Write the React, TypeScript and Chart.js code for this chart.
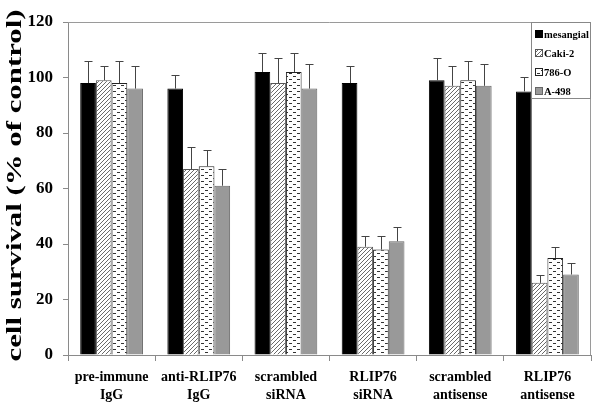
import React, { useEffect, useRef } from "react";
import { Chart, registerables } from "chart.js";

Chart.register(...registerables);

const categories: string[][] = [
  ["pre-immune", "IgG"],
  ["anti-RLIP76", "IgG"],
  ["scrambled", "siRNA"],
  ["RLIP76", "siRNA"],
  ["scrambled", "antisense"],
  ["RLIP76", "antisense"],
];
const seriesNames = ["mesangial", "Caki-2", "786-O", "A-498"];
const mesangial = [98, 96, 102, 98, 99, 95];
const mesangialErr = [8, 5, 7, 6, 8, 5];
const caki2 = [99, 67, 98, 39, 97, 26];
const caki2Err = [5, 8, 9, 4, 7, 3];
const o786 = [98, 68, 102, 38, 99, 35];
const o786Err = [8, 6, 7, 5, 7, 4];
const a498 = [96, 61, 96, 41, 97, 29];
const a498Err = [8, 6, 9, 5, 8, 4];
const yTicks = [0, 20, 40, 60, 80, 100, 120];
const yTitle = "cell survival (% of control)";

const SERIF = "'Liberation Serif', 'Times New Roman', serif";

function makeHatch(ctx: CanvasRenderingContext2D): CanvasPattern | string {
  const c = document.createElement("canvas");
  c.width = 4;
  c.height = 4;
  const g = c.getContext("2d")!;
  g.fillStyle = "#ffffff";
  g.fillRect(0, 0, 4, 4);
  g.strokeStyle = "#6a6a6a";
  g.lineWidth = 1;
  g.beginPath();
  g.moveTo(-1, 5);
  g.lineTo(5, -1);
  g.moveTo(-1, 1);
  g.lineTo(1, -1);
  g.moveTo(3, 5);
  g.lineTo(5, 3);
  g.stroke();
  return ctx.createPattern(c, "repeat") || "#aaa";
}

function makeDots(ctx: CanvasRenderingContext2D): CanvasPattern | string {
  const c = document.createElement("canvas");
  c.width = 8;
  c.height = 6;
  const g = c.getContext("2d")!;
  g.fillStyle = "#ffffff";
  g.fillRect(0, 0, 8, 6);
  g.fillStyle = "#333333";
  g.fillRect(1, 1, 3, 1);
  g.fillRect(5, 4, 3, 1);
  return ctx.createPattern(c, "repeat") || "#ddd";
}

export default function App() {
  const ref = useRef<HTMLCanvasElement>(null);
  useEffect(() => {
    const canvas = ref.current!;
    const ctx = canvas.getContext("2d")!;
    const hatch = makeHatch(ctx);
    const dots = makeDots(ctx);
    const values = [mesangial, caki2, o786, a498];
    const errs = [mesangialErr, caki2Err, o786Err, a498Err];
    const fills: any[] = ["#000000", hatch, dots, "#999999"];
    const borders = ["#000000", "#555555", "#222222", "#666666"];

    const frame = {
      id: "frame",
      afterDraw(chart: any) {
        const a = chart.chartArea;
        const c = chart.ctx;
        c.save();
        c.strokeStyle = "#9a9a9a";
        c.lineWidth = 1;
        c.beginPath();
        c.moveTo(a.left, a.top + 0.5);
        c.lineTo(a.right - 0.5, a.top + 0.5);
        c.lineTo(a.right - 0.5, a.bottom);
        c.stroke();
        c.restore();
      },
    };

    const axisTitle = {
      id: "axisTitle",
      afterDraw(chart: any) {
        const a = chart.chartArea;
        const c = chart.ctx;
        c.save();
        c.font = `bold 21px ${SERIF}`;
        const w = c.measureText(yTitle).width;
        const target = 352;
        c.translate(16, (a.top + a.bottom) / 2 - 3);
        c.rotate(-Math.PI / 2);
        c.scale(target / w, 1);
        c.fillStyle = "#000000";
        c.textAlign = "center";
        c.textBaseline = "middle";
        c.fillText(yTitle, 0, 0);
        c.restore();
      },
    };

    const errorBars = {
      id: "errorBars",
      afterDatasetsDraw(chart: any) {
        const c = chart.ctx;
        const ys = chart.scales.y;
        c.save();
        c.strokeStyle = "#444444";
        c.lineWidth = 1;
        chart.data.datasets.forEach((ds: any, i: number) => {
          const meta = chart.getDatasetMeta(i);
          meta.data.forEach((el: any, j: number) => {
            const v = ds.data[j];
            const e = errs[i][j];
            const x = Math.round(el.x) + 0.5;
            const yTop = Math.round(ys.getPixelForValue(v + e)) + 0.5;
            c.beginPath();
            c.moveTo(x, el.y);
            c.lineTo(x, yTop);
            c.moveTo(x - 4, yTop);
            c.lineTo(x + 4, yTop);
            c.stroke();
          });
        });
        c.restore();
      },
    };

    const legendBox = {
      id: "legendBox",
      afterDraw(chart: any) {
        const a = chart.chartArea;
        const c = chart.ctx;
        const left = a.right - 60;
        const top = a.top;
        c.save();
        c.fillStyle = "#ffffff";
        c.fillRect(left, top, 60, 77);
        c.strokeStyle = "#888888";
        c.lineWidth = 1;
        c.strokeRect(left + 0.5, top + 0.5, 59, 76);
        c.font = `bold 10.5px ${SERIF}`;
        c.textBaseline = "middle";
        chart.data.datasets.forEach((ds: any, i: number) => {
          const cy = top + 12 + i * 19;
          c.fillStyle = fills[i];
          c.fillRect(left + 4, cy - 4, 8, 8);
          c.strokeStyle = borders[i];
          c.strokeRect(left + 4.5, cy - 3.5, 7, 7);
          c.fillStyle = "#000000";
          c.fillText(ds.label, left + 13, cy + 1);
        });
        c.restore();
      },
    };

    const chart = new Chart(canvas, {
      type: "bar",
      data: {
        labels: categories,
        datasets: seriesNames.map((name, i) => ({
          label: name,
          data: values[i],
          backgroundColor: fills[i],
          borderColor: borders[i],
          borderWidth: 1,
          categoryPercentage: 0.72,
          barPercentage: 1,
        })),
      },
      options: {
        responsive: false,
        animation: false,
        devicePixelRatio: 1,
        layout: { padding: { top: 22, right: 10, left: 0, bottom: 0 } },
        plugins: {
          legend: { display: false },
          tooltip: { enabled: false },
          title: { display: false },
        },
        scales: {
          x: {
            grid: {
              display: true,
              offset: true,
              drawOnChartArea: false,
              tickLength: 6,
              color: "#8a8a8a",
            },
            border: { color: "#8a8a8a" },
            ticks: {
              color: "#000000",
              font: { family: SERIF, size: 14, weight: "bold", lineHeight: 1.3 },
              padding: 7,
              maxRotation: 0,
              autoSkip: false,
            },
            afterFit(scale: any) {
              scale.height = 60;
            },
          },
          y: {
            min: 0,
            max: 120,
            afterBuildTicks(scale: any) {
              scale.ticks = yTicks.map((v) => ({ value: v }));
            },
            grid: {
              display: true,
              drawOnChartArea: false,
              tickLength: 5,
              color: "#8a8a8a",
            },
            border: { color: "#8a8a8a" },
            ticks: {
              color: "#000000",
              font: { family: SERIF, size: 17, weight: "bold" },
              padding: 10,
            },
            title: { display: false },
            afterFit(scale: any) {
              scale.width = 68;
            },
          },
        },
      },
      plugins: [frame, errorBars, legendBox, axisTitle],
    });
    return () => chart.destroy();
  }, []);

  return (
    <div style={{ position: "absolute", left: 0, top: 0, width: 601, height: 415, background: "#fff" }}>
      <canvas ref={ref} width={601} height={415} style={{ display: "block", width: 601, height: 415 }} />
    </div>
  );
}
